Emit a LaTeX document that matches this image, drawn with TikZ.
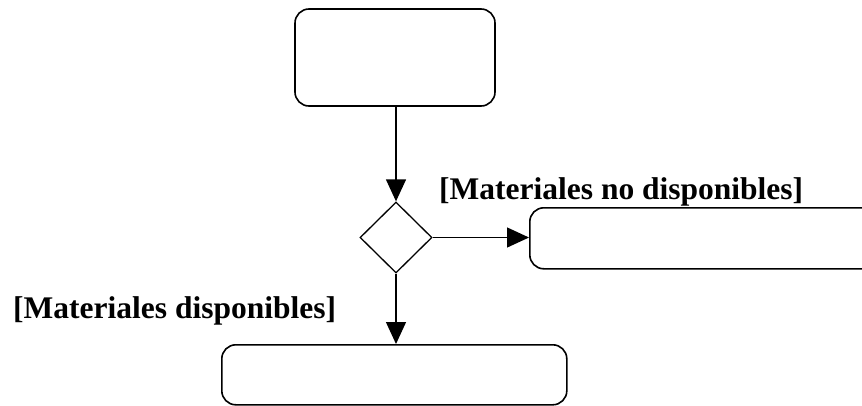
\documentclass[tikz,border=0pt]{standalone}
\usepackage{fontspec}
\setmainfont{Liberation Serif}
\usetikzlibrary{arrows.meta,shapes.geometric}
\begin{document}
\begin{tikzpicture}[x=1pt,y=-1pt,
  actbox/.style={draw,line width=1.6pt,rounded corners=14pt,inner sep=0pt},
  decision/.style={draw,line width=1.3pt,diamond,minimum width=72pt,minimum height=71pt,inner sep=0pt},
  flow/.style={line width=1.3pt,-{Triangle[width=20pt,length=22pt]}},
  guard/.style={font=\bfseries\fontsize{31.5}{36}\selectfont,inner sep=0pt,anchor=base west}]
\useasboundingbox (0,0) rectangle (862,405);
\clip (0,0) rectangle (862,405);
\node[actbox,minimum width=200pt,minimum height=97pt] (start) at (395,57.5) {};
\node[decision] (dec) at (396,237.5) {};
\node[actbox,minimum width=360pt,minimum height=61pt,anchor=north west] (nomat) at (529,207) {};
\node[actbox,minimum width=345pt,minimum height=60pt,anchor=north west] (mat) at (221,344) {};
\draw[flow] (start.south -| dec.north) -- (dec.north);
\draw[flow] (dec.east) -- (nomat.west |- dec.east);
\draw[flow] (dec.south) -- (mat.north -| dec.south);
\node[guard] (lblno) at (439,199) {[Materiales no disponibles]};
\node[guard] (lblyes) at (13,318) {[Materiales disponibles]};
\end{tikzpicture}
\end{document}
